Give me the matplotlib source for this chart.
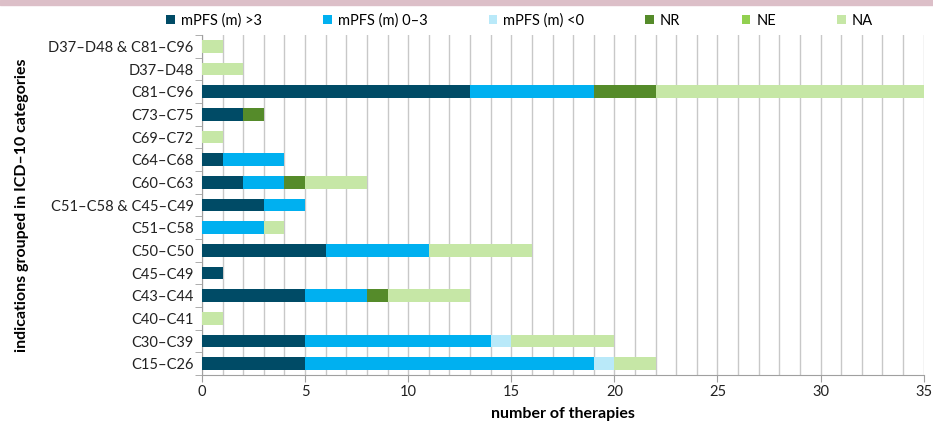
import numpy as np
import matplotlib.pyplot as plt
from matplotlib.ticker import MultipleLocator, FixedLocator

plt.rcParams['font.family'] = ['Lato', 'DejaVu Sans']

# Data (bottom to top)
categories = ['C15–C26', 'C30–C39', 'C40–C41', 'C43–C44', 'C45–C49', 'C50–C50',
              'C51–C58', 'C51–C58 & C45–C49', 'C60–C63', 'C64–C68', 'C69–C72',
              'C73–C75', 'C81–C96', 'D37–D48', 'D37–D48 & C81–C96']
pfs_gt3 = [5, 5, 0, 5, 1, 6, 0, 3, 2, 1, 0, 2, 13, 0, 0]
pfs_0_3 = [14, 9, 0, 3, 0, 5, 3, 2, 2, 3, 0, 0, 6, 0, 0]
pfs_lt0 = [1, 1, 0, 0, 0, 0, 0, 0, 0, 0, 0, 0, 0, 0, 0]
nr      = [0, 0, 0, 1, 0, 0, 0, 0, 1, 0, 0, 1, 3, 0, 0]
ne      = [0, 0, 0, 0, 0, 0, 0, 0, 0, 0, 0, 0, 0, 0, 0]
na      = [2, 5, 1, 4, 0, 5, 1, 0, 3, 0, 1, 0, 13, 2, 1]

series = [
    ('mPFS (m) >3', pfs_gt3, '#004b66'),
    ('mPFS (m) 0–3', pfs_0_3, '#00b0f0'),
    ('mPFS (m) <0', pfs_lt0, '#b9e9f9'),
    ('NR', nr, '#558b2a'),
    ('NE', ne, '#92d050'),
    ('NA', na, '#c6e7a6'),
]

fig = plt.figure(figsize=(9.33, 4.26), dpi=100)
ax = fig.add_axes([0.2165, 0.1197, 0.7735, 0.798])

# pink strip along top edge
fig.patches.append(plt.Rectangle((0, 0.988), 1, 0.012, transform=fig.transFigure,
                                 color='#dcbfc8', zorder=0))

y = np.arange(len(categories))
left = np.zeros(len(categories))
for label, vals, color in series:
    vals = np.array(vals, dtype=float)
    ax.barh(y, vals, left=left, height=0.55, color=color, label=label, zorder=3)
    left += vals

ax.set_xlim(0, 35)
ax.set_ylim(-0.5, len(categories) - 0.5)
ax.set_yticks(y)
ax.set_yticklabels(categories, fontsize=10.5, color='#222222')
ax.yaxis.set_minor_locator(FixedLocator(np.arange(-0.5, len(categories), 1)))
ax.tick_params(axis='y', which='major', length=0, pad=6)
ax.tick_params(axis='y', which='minor', length=5, color='#a0a0a0')

ax.xaxis.set_major_locator(MultipleLocator(5))
ax.xaxis.set_minor_locator(MultipleLocator(1))
ax.tick_params(axis='x', which='major', length=5, color='#a0a0a0', labelsize=10.5,
               labelcolor='#222222', pad=2)
ax.tick_params(axis='x', which='minor', length=0)
ax.grid(axis='x', which='both', color='#c8c8c8', linewidth=1, zorder=0)
ax.set_axisbelow(True)

for s in ['top', 'right']:
    ax.spines[s].set_visible(False)
for s in ['left', 'bottom']:
    ax.spines[s].set_color('#a0a0a0')

ax.set_xlabel('number of therapies', fontsize=11.5, fontweight='bold', labelpad=6)
ax.set_ylabel('indications grouped in ICD–10 categories', fontsize=11.5,
              fontweight='bold')
ax.yaxis.set_label_coords(-0.24, 0.5)

leg = ax.legend(loc='lower center', bbox_to_anchor=(0.44, 1.0), ncol=6, frameon=False,
                fontsize=10.5, handlelength=0.6, handleheight=0.6, handletextpad=0.4,
                columnspacing=4.2, borderaxespad=0.1)

fig.savefig('out.png', dpi=100)
